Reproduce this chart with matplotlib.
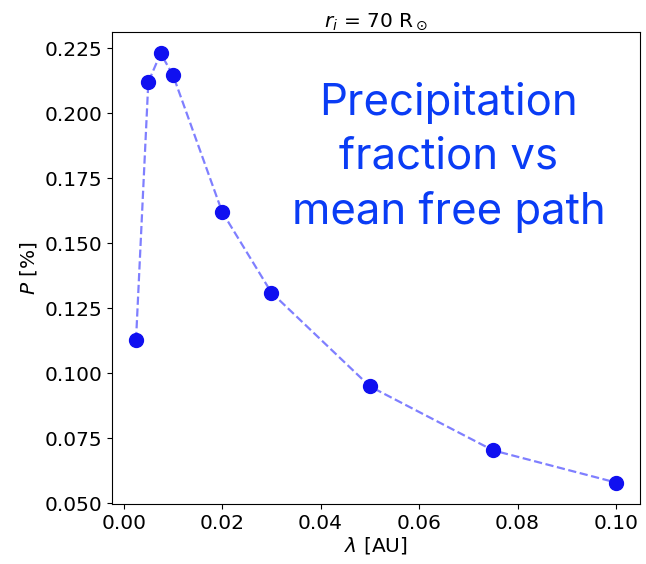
import numpy as np
import matplotlib.pyplot as plt

# mean free path [AU] and precipitation fraction [%]
lam = [0.0025, 0.005, 0.0075, 0.01, 0.02, 0.03, 0.05, 0.075, 0.1]
P = [0.1128, 0.2121, 0.2231, 0.2148, 0.1621, 0.1311, 0.0950, 0.0704, 0.0580]

fig = plt.figure(figsize=(6.46, 5.64), dpi=100)
ax = fig.add_axes([0.1734, 0.1064, 0.8173, 0.8369])

ax.plot(lam, P, '--', color='blue', alpha=0.5, linewidth=1.6)
ax.plot(lam, P, 'o', color='#1010f0', markersize=10)

ax.set_yticks([0.050, 0.075, 0.100, 0.125, 0.150, 0.175, 0.200, 0.225])
ax.set_xticks([0.00, 0.02, 0.04, 0.06, 0.08, 0.10])
ax.tick_params(labelsize=14.5)
ax.set_xlabel(r'$\lambda$ [AU]', fontsize=14.5, labelpad=2)
ax.set_ylabel(r'$P$ [%]', fontsize=14.5)
ax.set_title(r'$r_i$ = 70 R$_\odot$', fontsize=14.5, pad=4)

ax.text(0.638, 0.735, 'Precipitation\nfraction vs\nmean free path', transform=ax.transAxes,
        ha='center', va='center', fontsize=31.5, color='#0a3cf5', family='Inter',
        linespacing=1.4)

fig.savefig('out.png', dpi=100)
